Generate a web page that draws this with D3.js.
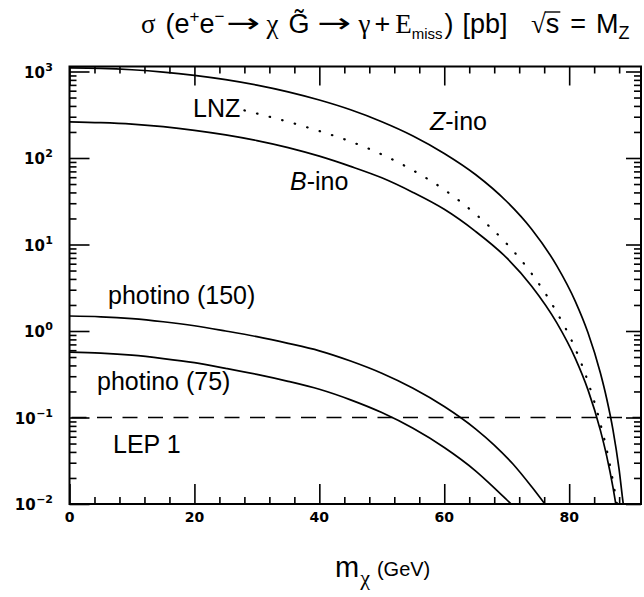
<!DOCTYPE html>
<html>
<head>
<meta charset="utf-8">
<script src="https://cdn.jsdelivr.net/npm/d3@7"></script>
<style>
  html, body { margin: 0; padding: 0; background: #fff; }
  svg { display: block; }
</style>
</head>
<body>
<svg id="chart" width="644" height="597"></svg>
<script>
// ---- data: neutralino mass (GeV) vs sigma (pb) ----
const zinoMass = [0, 5, 10, 15, 20, 25, 30, 35, 40, 45, 50, 55, 60, 65, 70, 74, 78, 81, 83, 85, 86, 87, 88, 88.6, 88.9];
const zinoXsec = [1100, 1087, 1048, 986, 903, 805, 696, 582, 468, 361, 263, 180, 113, 64.5, 31.4, 15.0, 5.7, 2.19, 0.96, 0.327, 0.166, 0.073, 0.0249, 0.0108, 0.0075];

const binoMass = [0, 5, 10, 15, 20, 25, 30, 35, 40, 45, 50, 55, 60, 65, 70, 74, 78, 81, 83, 85, 86, 87, 87.6];
const binoXsec = [262, 256, 246, 230, 209, 185, 159, 132, 105, 80, 59, 40, 25.5, 14.2, 7.0, 3.3, 1.25, 0.48, 0.21, 0.071, 0.036, 0.0158, 0.0087];

const lnzMass = [28, 32, 36, 40, 45, 50, 55, 60, 65, 70, 74, 78, 81, 83, 85, 86, 87, 87.7];
const lnzXsec = [355, 300, 250, 205, 155, 110, 72, 43, 22.5, 10.2, 4.6, 1.65, 0.62, 0.26, 0.085, 0.043, 0.0185, 0.0095];

const photino150Mass = [0, 5, 10, 15, 20, 25, 30, 35, 40, 45, 50, 55, 60, 65, 68, 71, 74, 76.2];
const photino150Xsec = [1.49, 1.46, 1.39, 1.28, 1.15, 1.0, 0.86, 0.72, 0.59, 0.45, 0.325, 0.218, 0.134, 0.074, 0.048, 0.029, 0.0158, 0.0098];

const photino75Mass = [0, 5, 10, 15, 20, 25, 30, 35, 40, 45, 50, 55, 60, 65, 68, 70, 71.5];
const photino75Xsec = [0.571, 0.555, 0.525, 0.48, 0.43, 0.37, 0.315, 0.262, 0.212, 0.16, 0.114, 0.075, 0.045, 0.0242, 0.0154, 0.0112, 0.0088];

const lep1Limit = 0.1;

// axis ticks and labels
const xTickValues = [0, 20, 40, 60, 80];
const xTickLabels = ["0", "20", "40", "60", "80"];
const yTickValues = [1e-2, 1e-1, 1, 10, 100, 1000];
const yTickExponents = ["\u22122", "\u22121", "0", "1", "2", "3"];

// ---- layout ----
const sans = "'Liberation Sans', Arial, Helvetica, sans-serif";
const serif = "'Liberation Serif', 'Times New Roman', serif";
const tickFont = "'DejaVu Sans', sans-serif";
const arrowFont = "'DejaVu Sans', sans-serif";

const plotL = 69.5, plotR = 641, plotT = 66.5, plotB = 504;
const xMax = 91.5;

const svg = d3.select("#chart");

const x = d3.scaleLinear().domain([0, xMax]).range([plotL, plotR]);
const y = d3.scaleLog().domain([1e-2, 1e3]).range([plotB, 71.5]);

const xMinor = d3.range(0, xMax, 4).filter(v => xTickValues.indexOf(v) < 0);
const yMinor = y.ticks().filter(v => yTickValues.indexOf(v) < 0);

// ---- helper: lay out a run of text pieces left to right ----
// piece options: t text, fs size, ff family, fw weight, st style,
// dx gap before, dy baseline offset, stretch = width to scale the glyphs to
function runs(parent, x0, y0, parts, anchor) {
  const g = parent.append("g");
  let cx = 0;
  parts.forEach(p => {
    cx += p.dx || 0;
    const t = g.append("text")
      .attr("font-family", p.ff || sans)
      .attr("font-size", p.fs)
      .attr("font-weight", p.fw || "normal")
      .attr("font-style", p.st || "normal")
      .attr("fill", "#000")
      .text(p.t);
    const w0 = t.node().getComputedTextLength();
    if (p.stretch) {
      t.attr("transform", `translate(${cx},${p.dy || 0}) scale(${p.stretch / w0},1)`);
      p.w = p.stretch;
    } else {
      t.attr("x", cx).attr("y", p.dy || 0);
      p.w = w0;
    }
    p.x = cx;
    cx += p.w;
  });
  const shift = anchor === "end" ? -cx : anchor === "middle" ? -cx / 2 : 0;
  g.attr("transform", `translate(${x0 + shift},${y0})`);
  return { g, parts, width: cx, x0: x0 + shift };
}

// ---- clip for the curves ----
svg.append("clipPath").attr("id", "plotclip")
  .append("rect").attr("x", plotL).attr("y", plotT)
  .attr("width", plotR - plotL).attr("height", plotB - plotT);

// ---- axes with inward ticks ----
function styleAxis(g) {
  g.select(".domain").remove();
  g.selectAll("line").attr("stroke", "#000").attr("stroke-width", 1.6);
  g.selectAll("text").remove();
}

// bottom
svg.append("g").attr("transform", `translate(0,${plotB})`)
  .call(d3.axisBottom(x).tickValues(xTickValues).tickSize(-20)).call(styleAxis);
svg.append("g").attr("transform", `translate(0,${plotB})`)
  .call(d3.axisBottom(x).tickValues(xMinor).tickSize(-7)).call(styleAxis);
// top
svg.append("g").attr("transform", `translate(0,${plotT})`)
  .call(d3.axisTop(x).tickValues(xTickValues).tickSize(-19)).call(styleAxis);
svg.append("g").attr("transform", `translate(0,${plotT})`)
  .call(d3.axisTop(x).tickValues(xMinor).tickSize(-7)).call(styleAxis);
// left
svg.append("g").attr("transform", `translate(${plotL},0)`)
  .call(d3.axisLeft(y).tickValues(yTickValues).tickSize(-20)).call(styleAxis);
svg.append("g").attr("transform", `translate(${plotL},0)`)
  .call(d3.axisLeft(y).tickValues(yMinor).tickSize(-7)).call(styleAxis);
// right
svg.append("g").attr("transform", `translate(${plotR},0)`)
  .call(d3.axisRight(y).tickValues(yTickValues).tickSize(-15)).call(styleAxis);
svg.append("g").attr("transform", `translate(${plotR},0)`)
  .call(d3.axisRight(y).tickValues(yMinor).tickSize(-7)).call(styleAxis);

// frame
svg.append("rect")
  .attr("x", plotL).attr("y", plotT)
  .attr("width", plotR - plotL).attr("height", plotB - plotT)
  .attr("fill", "none").attr("stroke", "#000").attr("stroke-width", 2);

// ---- tick labels ----
xTickValues.forEach((v, i) => {
  svg.append("text")
    .attr("x", x(v)).attr("y", plotB + 18)
    .attr("text-anchor", "middle")
    .attr("font-family", tickFont).attr("font-weight", "bold").attr("font-size", 14)
    .text(xTickLabels[i]);
});

yTickValues.forEach((v, i) => {
  runs(svg, 53, y(v) + 6, [
    { t: "10", fs: 15, fw: "bold", ff: tickFont },
    { t: yTickExponents[i], fs: 11, fw: "bold", ff: tickFont, dy: -7, dx: 0.5 }
  ], "end");
});

// ---- curves ----
const line = d3.line()
  .x(d => x(d[0]))
  .y(d => y(d[1]))
  .curve(d3.curveMonotoneX);

const curves = svg.append("g").attr("clip-path", "url(#plotclip)");

function drawCurve(mass, xsec, dash, width) {
  const pts = mass.map((m, i) => [m, xsec[i]]);
  const p = curves.append("path")
    .datum(pts)
    .attr("d", line)
    .attr("fill", "none")
    .attr("stroke", "#000")
    .attr("stroke-width", width || 1.7);
  if (dash) p.attr("stroke-dasharray", dash).attr("stroke-linecap", "round");
  return p;
}

drawCurve(zinoMass, zinoXsec);
drawCurve(binoMass, binoXsec);
drawCurve(lnzMass, lnzXsec, "0.5 12.5", 2.2);
drawCurve(photino150Mass, photino150Xsec);
drawCurve(photino75Mass, photino75Xsec);

// LEP 1 limit
curves.append("path")
  .datum([[0, lep1Limit], [xMax, lep1Limit]])
  .attr("d", d3.line().x(d => x(d[0])).y(d => y(d[1])))
  .attr("fill", "none").attr("stroke", "#000")
  .attr("stroke-width", 1.7)
  .attr("stroke-dasharray", "15 10.5")
  .attr("stroke-dashoffset", -2);

// ---- curve labels ----
const labelFs = 25;
function label(px, py, parts) {
  return runs(svg, px, py, parts.map(p => Object.assign({ fs: labelFs }, p)), "start");
}
label(193, 117, [{ t: "LNZ" }]);
label(430, 130, [{ t: "Z", st: "italic" }, { t: "-ino" }]);
label(290, 190, [{ t: "B", st: "italic" }, { t: "-ino" }]);
label(108, 304, [{ t: "photino (150)" }]);
label(97, 390, [{ t: "photino (75)" }]);
label(113, 453, [{ t: "LEP 1" }]);

// ---- title ----
const tFs = 27, supFs = 17, tY = 33;
runs(svg, 141, tY, [
  { t: "\u03c3", ff: serif, fs: tFs },
  { t: "(", fs: tFs, dx: 10 },
  { t: "e", fs: tFs },
  { t: "+", fs: supFs, dy: -11 },
  { t: "e", fs: tFs },
  { t: "\u2212", fs: supFs, dy: -11 },
  { t: "\u2192", ff: arrowFont, fs: tFs, dx: 2, stretch: 34, dy: -1 },
  { t: "\u03c7", ff: serif, fs: tFs, dx: 6 },
  { t: "G\u0303", fs: tFs, dx: 10 },
  { t: "\u2192", ff: arrowFont, fs: tFs, dx: 8, stretch: 34, dy: -1 },
  { t: "\u03b3", ff: serif, fs: tFs, dx: 7 },
  { t: "+", fs: tFs, dx: 4 },
  { t: "E", ff: serif, fs: tFs, dx: 5 },
  { t: "miss", fs: 15, dy: 6 },
  { t: ")", fs: tFs, dx: 2 },
  { t: "[pb]", fs: tFs, dx: 9 }
], "start");

const sq = runs(svg, 531, tY, [
  { t: "\u221a", ff: serif, fs: tFs },
  { t: "s", fs: tFs },
  { t: "=", fs: tFs, dx: 11 },
  { t: "M", fs: tFs, dx: 10 },
  { t: "Z", fs: 18, dy: 6 }
], "start");
// bar of the square root over s
const sPart = sq.parts[1];
svg.append("line")
  .attr("x1", sq.x0 + sPart.x - 1).attr("x2", sq.x0 + sPart.x + sPart.w + 1)
  .attr("y1", tY - 21).attr("y2", tY - 21)
  .attr("stroke", "#000").attr("stroke-width", 1.4);

// ---- x axis title ----
runs(svg, 335, 577, [
  { t: "m", fs: 29 },
  { t: "\u03c7", ff: serif, fs: 22, dy: 8, dx: 1 },
  { t: "(GeV)", fs: 20, dx: 7, dy: -1 }
], "start");
</script>
</body>
</html>
